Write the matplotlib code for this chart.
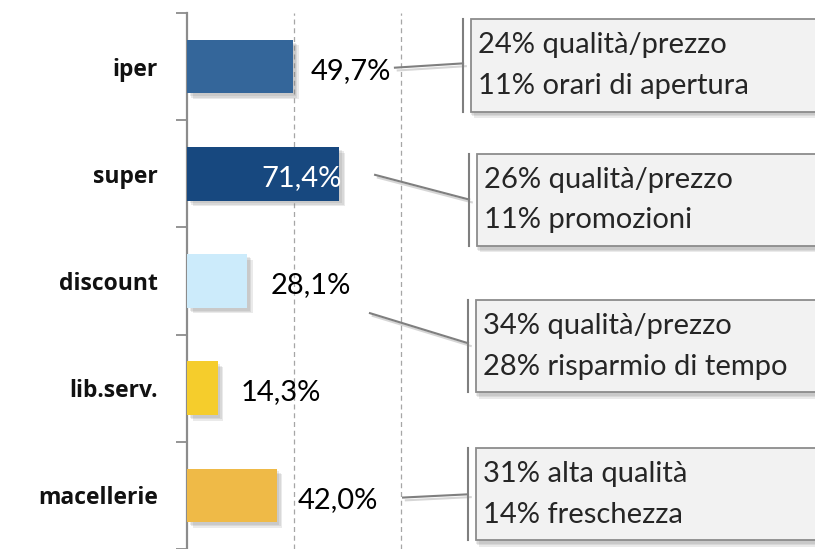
import matplotlib.pyplot as plt
import matplotlib.patheffects as pe
from matplotlib.patches import Rectangle

plt.rcParams['font.family'] = ['Lato', 'DejaVu Sans']

# data
categories = ['iper', 'super', 'discount', 'lib.serv.', 'macellerie']
values = [49.7, 71.4, 28.1, 14.3, 42.0]
labels = ['49,7%', '71,4%', '28,1%', '14,3%', '42,0%']
colors = ['#34669A', '#17487F', '#CCEBFB', '#F5CD2C', '#EFBA47']
reasons = [
    ['24% qualità/prezzo', '11% orari di apertura'],
    ['26% qualità/prezzo', '11% promozioni'],
    ['34% qualità/prezzo', '28% risparmio di tempo'],
    ['31% alta qualità', '14% freschezza'],
]

# callout layout (data units): box left, box top, leader start (x, y), leader end y
box_left = [133.0, 135.8, 135.3, 135.3]
box_top = [-0.44, 0.815, 2.18, 3.56]
box_h = 0.86
lead_start = [(97.4, 0.01), (88.1, 1.01), (85.7, 2.30), (101.2, 4.02)]
lead_end_y = [-0.03, 1.24, 2.58, 3.99]
label_dx = [8, 1, 11, 11, 10]


def soft_shadow(dx, dy):
    # a few stacked translucent shadows to fake a blur
    fx = [pe.SimplePatchShadow(offset=(dx + d, dy - d), shadow_rgbFace='#7F7F7F', alpha=0.16)
          for d in (-1.0, 0.0, 1.0)]
    return fx + [pe.Normal()]


fig = plt.figure(figsize=(8.15, 5.49), dpi=100)
ax = fig.add_axes([187 / 815, 0, 628 / 815, 536 / 549])

bars = ax.barh(range(len(categories)), values, height=0.5, color=colors, zorder=3)
for b in bars:
    b.set_path_effects(soft_shadow(3, -3))

ax.set_xlim(0, 628 / 2.135)
ax.set_ylim(4.5, -0.5)
ax.set_xticks([50, 100])
ax.set_xticklabels([])
ax.tick_params(axis='x', length=0)
ax.grid(axis='x', color='#A6A6A6', linestyle=(0, (4, 3)), linewidth=0.9, zorder=0)

ax.set_yticks(range(len(categories)))
ax.set_yticklabels(categories, fontsize=16.5, fontweight='bold', color='#111111',
                   family=['Open Sans', 'DejaVu Sans'])
ax.tick_params(axis='y', length=0, pad=21)
ax.set_yticks([i - 0.5 for i in range(len(categories) + 1)], minor=True)
ax.tick_params(axis='y', which='minor', length=8, width=1.3, color='#8C8C8C')

for s in ['top', 'right', 'bottom']:
    ax.spines[s].set_visible(False)
ax.spines['left'].set_color('#8C8C8C')
ax.spines['left'].set_linewidth(1.6)

for i, (v, lab) in enumerate(zip(values, labels)):
    if i == 1:
        ax.text(v + label_dx[i], i + 0.04, lab, ha='right', va='center', fontsize=21,
                color='white', zorder=5)
    else:
        ax.text(v + label_dx[i], i + 0.04, lab, ha='left', va='center', fontsize=21,
                color='black', zorder=5)

line_shadow = [pe.SimpleLineShadow(offset=(2, -2), shadow_color='#999999', alpha=0.4), pe.Normal()]
for k, lines in enumerate(reasons):
    x0 = box_left[k]
    top = box_top[k]
    acc = x0 - 3.7
    ax.plot([lead_start[k][0], acc], [lead_start[k][1], lead_end_y[k]], color='#7F7F7F',
            linewidth=1.5, clip_on=False, zorder=4, path_effects=line_shadow)
    ax.plot([acc, acc], [top, top + box_h], color='#7F7F7F', linewidth=1.5, clip_on=False, zorder=4)
    r = Rectangle((x0, top), 300, box_h, facecolor='#F2F2F2', edgecolor='#8C8C8C',
                  linewidth=1.3, clip_on=False, zorder=4)
    r.set_path_effects(soft_shadow(1, -3.5))
    ax.add_patch(r)
    ax.text(x0 + 3.5, top + box_h * 0.28, lines[0], ha='left', va='center', fontsize=21,
            color='#262626', zorder=5, clip_on=False)
    ax.text(x0 + 3.5, top + box_h * 0.72, lines[1], ha='left', va='center', fontsize=21,
            color='#262626', zorder=5, clip_on=False)

fig.savefig('out.png', dpi=100)
